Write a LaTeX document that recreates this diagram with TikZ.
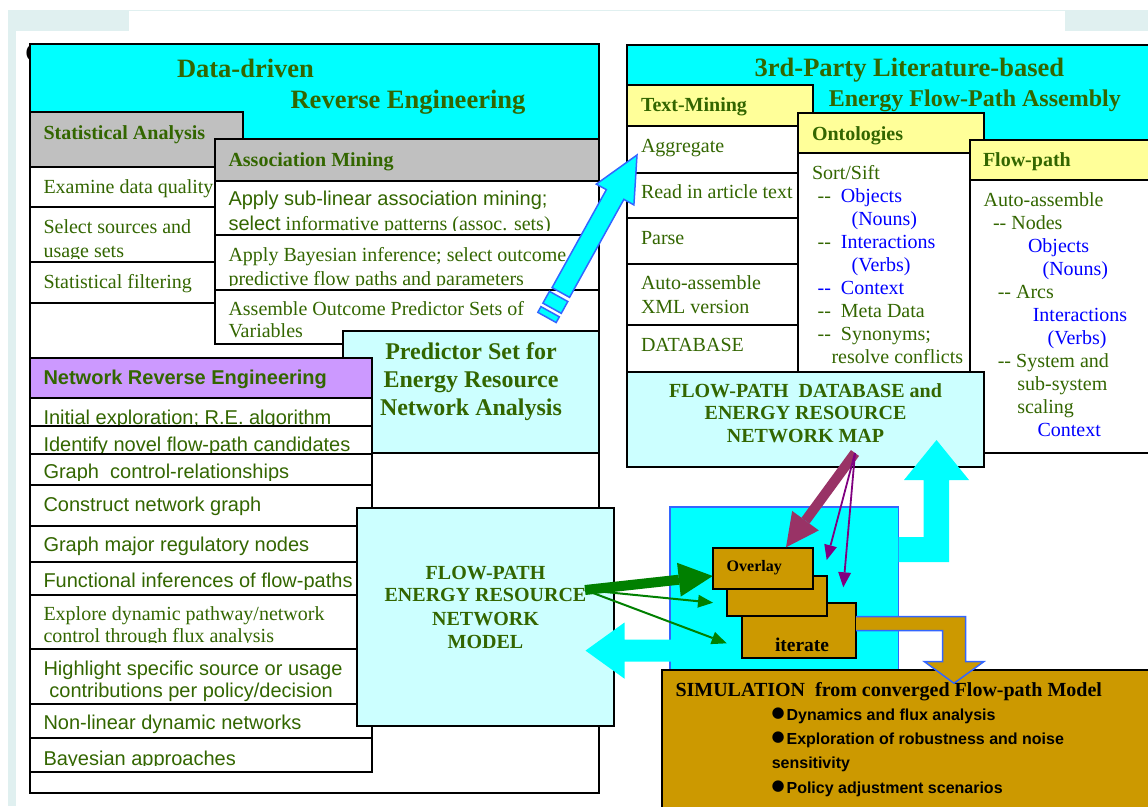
\documentclass[tikz,border=0pt]{standalone}
\usepackage{fontspec}
\setmainfont{Liberation Serif}
\setsansfont{Liberation Sans}
\newfontfamily\dejavu{DejaVu Sans}
\usetikzlibrary{arrows.meta}

\definecolor{tgreen}{HTML}{336600}
\definecolor{tblue}{HTML}{0000FF}
\definecolor{aqua}{HTML}{00FFFF}
\definecolor{paleaqua}{HTML}{CCFFFF}
\definecolor{hdrgray}{HTML}{C0C0C0}
\definecolor{lilac}{HTML}{CC99FF}
\definecolor{paleyellow}{HTML}{FFFF99}
\definecolor{ochre}{HTML}{CC9900}
\definecolor{wine}{HTML}{993366}
\definecolor{plum}{HTML}{800080}
\definecolor{leaf}{HTML}{008000}
\definecolor{edgeblue}{HTML}{3366FF}
\definecolor{pageframe}{HTML}{E0F0F0}

% \rbox[style]{name}{x1}{y1}{x2}{y2}: framed rectangle between two corners
\newcommand\rbox[6][]{%
  \node[panel,#1,minimum width={#5-#3},minimum height={#6-#4}] (#2)
    at ({(#3+#5)/2},{(#4+#6)/2}) {};}
% \cutline[style]{name}{x}{baseline}{cut}{text}: a text line whose lower part is cut off
\newcommand\cutline[6][]{%
  \begin{scope}
    \clip ({#3-20},{#4-40}) rectangle ({#3+600},#5);
    \node[tx,#1] (#2) at (#3,#4) {#6};
  \end{scope}}
% raised round bullet for the simulation list
\newcommand\simdot{{\dejavu\fontsize{15}{15}\selectfont\raisebox{3pt}{●}}\kern2pt}

\begin{document}
\begin{tikzpicture}[x=1pt, y=-1pt,
  panel/.style={rectangle, draw=black, line width=2pt, inner sep=0pt, outer sep=0pt},
  tx/.style={anchor=base west, inner sep=0pt, outer sep=0pt, text=tgreen,
             font=\fontsize{20}{24}\selectfont},
  txs/.style={tx, font=\sffamily\fontsize{20}{24}\selectfont},
  txb/.style={tx, font=\bfseries\fontsize{20}{24}\selectfont},
  txsb/.style={tx, font=\sffamily\bfseries\fontsize{20}{24}\selectfont},
  ctrline/.style={anchor=base},
  blu/.style={text=tblue},
  bigtitle/.style={tx, font=\bfseries\fontsize{26.5}{30}\selectfont},
  fatarrow/.style={line width=10pt},
  thinarrow/.style={line width=2pt, -{Triangle[length=15pt,width=13pt,line width=0pt]}},
  blockarrow/.style={line width=1.5pt, draw=edgeblue, line join=miter}]

\useasboundingbox (0,0) rectangle (1148,806);
\clip (0,0) rectangle (1148,806);

% ---------- page frame ----------
\fill[pageframe] (8,10) rectangle (129,31);
\fill[pageframe] (1065,10) rectangle (1148,31);
\fill[pageframe] (8,31) rectangle (15.5,806);
\fill[pageframe] (129,10) rectangle (1065,11.2);

% ---------- data-driven reverse engineering ----------
\node[tx, text=black, font=\sffamily\bfseries\fontsize{24}{24}\selectfont] (hid) at (25.5,61) {C};
\fill[aqua] (30,44) rectangle (599,139);
\rbox{dd}{30}{44}{599}{793}
\node[bigtitle] (ddA) at (177,77.3) {Data-driven};
\node[bigtitle] (ddB) at (290.6,108.3) {Reverse Engineering};

\rbox[fill=hdrgray]{sa}{30}{112}{243}{167}
\node[txb] (saT) at (43.5,139.5) {Statistical Analysis};
\rbox[fill=white]{sa1}{30}{167}{243}{207}
\node[tx] (sa1T) at (43.5,193.3) {Examine data quality};
\rbox[fill=white]{sa2}{30}{207}{243}{262}
\node[tx] (sa2T) at (43.5,233.3) {Select sources and};
\cutline{sa2U}{43.5}{257.3}{258}{usage sets}
\rbox[fill=white]{sa3}{30}{262}{243}{303}
\node[tx] (sa3T) at (43.5,288.3) {Statistical filtering};

\rbox[fill=hdrgray]{am}{215}{139}{599}{181}
\node[txb] (amT) at (228.5,166.5) {Association Mining};
\rbox[fill=white]{am1}{215}{181}{599}{235}
\node[txs] (am1T) at (228.5,205) {Apply sub-linear association mining;};
\cutline{am1U}{228.5}{230}{230}{{\sffamily select} informative patterns (assoc. sets)}
\rbox[fill=white]{am2}{215}{235}{599}{290}
\node[tx] (am2T) at (228.5,261) {Apply Bayesian inference; select outcome};
\cutline{am2U}{228.5}{285}{285}{predictive flow paths and parameters}
\rbox[fill=white]{am3}{215}{290}{599}{344}
\node[tx] (am3T) at (228.5,315) {Assemble Outcome Predictor Sets of};
\node[tx] (am3U) at (228.5,337.3) {Variables};

\rbox[fill=paleaqua]{ps}{343}{331}{599}{453}
\node[txb, ctrline, font=\bfseries\fontsize{24}{28}\selectfont] (psA) at (471,359.3) {Predictor Set for};
\node[txb, ctrline, font=\bfseries\fontsize{24}{28}\selectfont] (psB) at (471,387.7) {Energy Resource};
\node[txb, ctrline, font=\bfseries\fontsize{24}{28}\selectfont] (psC) at (471,415) {Network Analysis};

% ---------- network reverse engineering ----------
\rbox[fill=lilac]{nre}{30}{358}{372}{398}
\node[txsb] (nreT) at (43.5,384) {Network Reverse Engineering};
\rbox[fill=white]{nr1}{30}{398}{372}{426}
\cutline[txs]{nr1T}{43.5}{424}{424.5}{Initial exploration; R.E. algorithm}
\rbox[fill=white]{nr2}{30}{426}{372}{453.5}
\cutline[txs]{nr2T}{43.5}{451.6}{452.3}{Identify novel flow-path candidates}
\rbox[fill=white]{nr3}{30}{453.5}{372}{485}
\cutline[txs]{nr3T}{43.5}{478.3}{480}{Graph\ \ control-relationships}
\rbox[fill=white]{nr4}{30}{485}{372}{526}
\node[txs] (nr4T) at (43.5,511.6) {Construct network graph};
\rbox[fill=white]{nr5}{30}{526}{372}{562}
\node[txs] (nr5T) at (43.5,551.6) {Graph major regulatory nodes};
\rbox[fill=white]{nr6}{30}{562}{372}{595}
\cutline[txs]{nr6T}{43.5}{587.6}{589}{Functional inferences of flow-paths}
\rbox[fill=white]{nr7}{30}{595}{372}{649}
\node[tx] (nr7T) at (43.5,620) {Explore dynamic pathway/network};
\cutline{nr7U}{43.5}{642.5}{642.8}{control through flux analysis}
\rbox[fill=white]{nr8}{30}{649}{372}{703.5}
\node[txs] (nr8T) at (43.5,675) {Highlight specific source or usage};
\node[txs] (nr8U) at (49.4,697.8) {contributions per policy/decision};
\rbox[fill=white]{nr9}{30}{703.5}{372}{738}
\node[txs] (nr9T) at (43.5,729.3) {Non-linear dynamic networks};
\rbox[fill=white]{nr10}{30}{738}{372}{772}
\cutline[txs]{nr10T}{43.5}{765}{765.8}{Bayesian approaches}

\rbox[fill=paleaqua]{fpm}{357}{508}{614}{725.5}
\node[txb, ctrline] (fpmA) at (485.5,579) {FLOW-PATH};
\node[txb, ctrline] (fpmB) at (485.5,601.5) {ENERGY RESOURCE};
\node[txb, ctrline] (fpmC) at (485.5,625) {NETWORK};
\node[txb, ctrline] (fpmD) at (485.5,648.2) {MODEL};

% ---------- 3rd-party literature-based assembly ----------
\rbox[fill=aqua]{lit}{627}{45}{1175}{452.7}
\node[bigtitle] (litA) at (754.7,76.7) {3rd-Party Literature-based};
\node[tx, font=\bfseries\fontsize{24}{28}\selectfont] (litB) at (828.8,106) {Energy Flow-Path Assembly};

\rbox[fill=paleyellow]{tm}{627}{85}{813}{126}
\node[txb] (tmT) at (641,111.7) {Text-Mining};
\rbox[fill=white]{tm1}{627}{126}{798}{172.5}
\node[tx] (tm1T) at (641,152.5) {Aggregate};
\rbox[fill=white]{tm2}{627}{172.5}{798}{218}
\node[tx] (tm2T) at (641,198.3) {Read in article text};
\rbox[fill=white]{tm3}{627}{218}{798}{264}
\node[tx] (tm3T) at (641,244.3) {Parse};
\rbox[fill=white]{tm4}{627}{264}{798}{325}
\node[tx] (tm4T) at (641,289.3) {Auto-assemble};
\node[tx] (tm4U) at (641,313.3) {XML version};
\rbox[fill=white]{tm5}{627}{325}{798}{372}
\node[tx] (tm5T) at (641,351) {DATABASE};

\rbox[fill=paleyellow]{on}{798}{112.7}{984}{153}
\node[txb] (onT) at (812,140) {Ontologies};
\rbox[fill=white]{onb}{798}{153}{984}{372}
\node[tx] (on1) at (812,179.3) {Sort/Sift};
\node[tx] (on2) at (817.6,202.3) {-{}-\ \ \textcolor{tblue}{Objects}};
\node[tx, blu] (on3) at (851.6,225.6) {(Nouns)};
\node[tx] (on4) at (817.6,248.6) {-{}-\ \ \textcolor{tblue}{Interactions}};
\node[tx, blu] (on5) at (851.6,271.6) {(Verbs)};
\node[tx, blu] (on6) at (817.6,294.6) {-{}-\ \ Context};
\node[tx] (on7) at (817.6,317.6) {-{}-\ \ Meta Data};
\node[tx] (on8) at (817.6,340.6) {-{}-\ \ Synonyms;};
\node[tx] (on9) at (831.5,363.3) {resolve conflicts};

\rbox[fill=paleyellow]{fp}{969.5}{140}{1175}{180}
\node[txb] (fpT) at (983,166.7) {Flow-path};
\rbox[fill=white]{fpb}{969.5}{180}{1175}{452.7}
\node[tx] (fp1) at (983.6,206) {Auto-assemble};
\node[tx] (fp2) at (993,229) {-{}- Nodes};
\node[tx, blu] (fp3) at (1028,252) {Objects};
\node[tx, blu] (fp4) at (1042.6,275) {(Nouns)};
\node[tx] (fp5) at (997.8,298) {-{}- Arcs};
\node[tx, blu] (fp6) at (1032.8,321) {Interactions};
\node[tx, blu] (fp7) at (1047.6,344) {(Verbs)};
\node[tx] (fp8) at (997.8,367) {-{}- System and};
\node[tx] (fp9) at (1017.3,390) {sub-system};
\node[tx] (fp10) at (1017.3,413) {scaling};
\node[tx, blu] (fp11) at (1037.5,436.7) {Context};

\rbox[fill=paleaqua]{db}{627}{372}{984}{467}
\node[txb, ctrline] (dbA) at (805.5,397.3) {FLOW-PATH\ \ DATABASE and};
\node[txb, ctrline] (dbB) at (805.5,419.3) {ENERGY RESOURCE};
\node[txb, ctrline] (dbC) at (805.5,442.6) {NETWORK MAP};

% ---------- iteration and simulation ----------
\rbox[fill=aqua, draw=edgeblue, line width=1.5pt]{iter}{670}{507}{898.5}{670}
\rbox[fill=ochre]{sim}{662}{670}{1175}{830}

\rbox[fill=ochre]{it3}{741.7}{602.7}{856}{657.7}
\rbox[fill=ochre]{it2}{727.3}{575.7}{827}{616.3}
\rbox[fill=ochre]{ovl}{712.7}{548}{812.7}{589}
\node[tx, text=black, font=\bfseries\fontsize{16}{19}\selectfont] (ovlT) at (726.7,571.3) {Overlay};
\cutline[text=black, font=\bfseries\fontsize{19.5}{22}\selectfont]{it3T}{775}{651}{651.5}{iterate}

% block arrows
\fill[aqua] (898.5,537) -- (923.5,537) -- (923.5,480) -- (904,480) -- (936.5,440)
  -- (969,480) -- (949,480) -- (949,562) -- (898.5,562) -- cycle;
\fill[aqua] (585.5,650.6) -- (624.5,622.5) -- (624.5,639.5) -- (671,639.5)
  -- (671,661.7) -- (624.5,661.7) -- (624.5,678.7) -- cycle;
\filldraw[blockarrow, fill=ochre] (856,616.7) -- (965.7,616.7) -- (965.7,661.7)
  -- (983.7,661.7) -- (954,683.3) -- (924.5,661.7) -- (942.5,661.7)
  -- (942.5,630.7) -- (856,630.7);

\node[tx, text=black] (simT) at (675.5,696.5) {\bfseries SIMULATION\ \ from converged Flow-path Model};
\node[tx, text=black, font=\sffamily\bfseries\fontsize{16}{19}\selectfont] (sim1) at (771.5,720.8) {\simdot Dynamics and flux analysis};
\node[tx, text=black, font=\sffamily\bfseries\fontsize{16}{19}\selectfont] (sim2) at (771.5,744.8) {\simdot Exploration of robustness and noise};
\node[tx, text=black, font=\sffamily\bfseries\fontsize{16}{19}\selectfont] (sim3) at (771.8,768.5) {sensitivity};
\node[tx, text=black, font=\sffamily\bfseries\fontsize{16}{19}\selectfont] (sim4) at (771.5,793.2) {\simdot Policy adjustment scenarios};

% model -> overlay stack
\coordinate (gsrc) at (585,590);
\coordinate (gdst1) at (712.7,576);
\coordinate (gdst2) at (713,602.7);
\coordinate (gdst3) at (726.7,643.3);
\draw[leaf, fatarrow, -{Triangle[length=34pt,width=34pt,line width=0pt]}] (gsrc) -- (gdst1);
\draw[leaf, thinarrow] (gsrc) -- (gdst2);
\draw[leaf, thinarrow] (gsrc) -- (gdst3);

% database -> overlay stack
\coordinate (psrc) at (855,453);
\coordinate (pdst1) at (786,547.3);
\coordinate (pdst2) at (826.7,560);
\coordinate (pdst3) at (843.3,587.3);
\draw[wine, fatarrow, -{Triangle[length=33pt,width=33pt,line width=0pt]}] (psrc) -- (pdst1);
\draw[plum, thinarrow, line width=1.8pt] (psrc) -- (pdst2);
\draw[plum, thinarrow, line width=1.8pt] (psrc) -- (pdst3);

% predictor sets -> text mining
\filldraw[blockarrow, fill=aqua] (552.05,287.65) -- (606.35,189.65) -- (596.3,184.1)
  -- (637,155) -- (633.9,204.9) -- (623.85,199.35) -- (569.55,297.35) -- cycle;
\filldraw[blockarrow, fill=aqua] (549.44,291.35) -- (567.8,301.53) -- (561.26,313.33)
  -- (542.9,303.15) -- cycle;
\filldraw[blockarrow, fill=aqua] (540.96,306.65) -- (559.32,316.83) -- (556.17,322.52)
  -- (537.81,312.34) -- cycle;
\end{tikzpicture}
\end{document}
